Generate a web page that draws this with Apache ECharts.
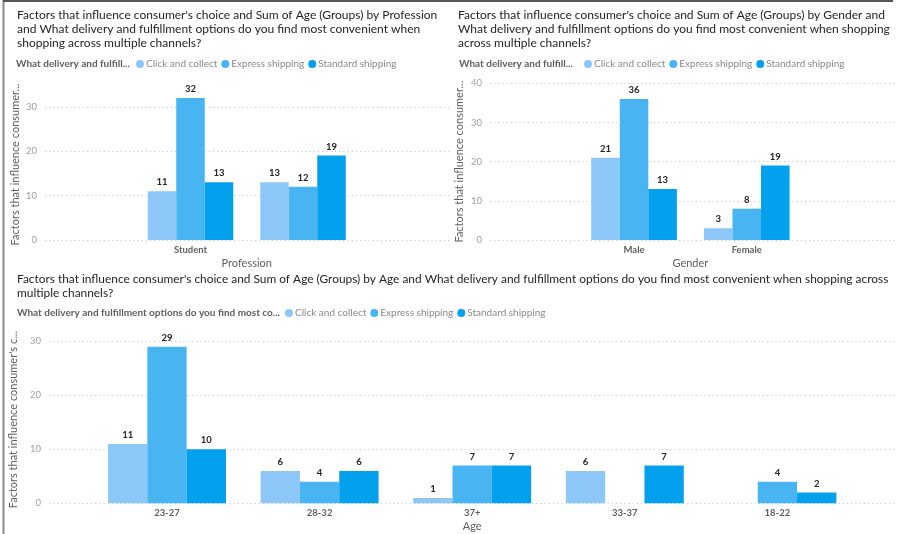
<!DOCTYPE html>
<html>
<head>
<meta charset="utf-8">
<script src="https://cdn.jsdelivr.net/npm/echarts@6/dist/echarts.min.js"></script>
<style>
  html, body { margin: 0; padding: 0; background: #fff; }
  #chart { width: 901px; height: 534px; }
</style>
</head>
<body>
<div id="chart"></div>
<script>
// Series names
const seriesNames = ['Click and collect', 'Express shipping', 'Standard shipping'];
const seriesColors = ['#8CC7F7', '#48B4F2', '#03A0EE'];

// Panel 1: by Profession
const professions = ['Student', 'Working professional'];
const profClick = [11, 13];
const profExpress = [32, 12];
const profStandard = [13, 19];

// Panel 2: by Gender
const genders = ['Male', 'Female'];
const genClick = [21, 3];
const genExpress = [36, 8];
const genStandard = [13, 19];

// Panel 3: by Age
const ages = ['23-27', '28-32', '37+', '33-37', '18-22'];
const ageClick = [11, 6, 1, 6, null];
const ageExpress = [29, 4, 7, null, 4];
const ageStandard = [10, 6, 7, 7, 2];

// Y ticks
const yTicks1 = [0, 10, 20, 30];
const yTicks2 = [0, 10, 20, 30, 40];
const yTicks3 = [0, 10, 20, 30];

const FONT = 'Lato, "Noto Sans", sans-serif';
const titleColor = '#252423';

const chart = echarts.init(document.getElementById('chart'), null, { renderer: 'canvas' });

function valueAxisFrame(gridIndex, max, name, nameGap, ticks) {
  return {
    type: 'value', gridIndex: gridIndex, min: 0, max: max, interval: 10,
    name: name, nameLocation: 'middle', nameGap: nameGap, nameRotate: 90,
    nameTextStyle: { color: '#605E5C', fontSize: 11, fontFamily: FONT },
    axisLine: { show: false }, axisTick: { show: false },
    axisLabel: {
      color: '#A19F9D', fontSize: 9.5, fontFamily: FONT, margin: 8,
      showMaxLabel: ticks.indexOf(max) >= 0,
      formatter: v => (ticks.indexOf(v) >= 0 ? String(v) : '')
    },
    splitLine: {
      show: true, showMaxLine: ticks.indexOf(max) >= 0,
      lineStyle: { color: '#C8C8C8', type: [1.2, 3], width: 1 }
    }
  };
}
function valueAxisHidden(gridIndex, max) {
  return { type: 'value', gridIndex: gridIndex, min: 0, max: max, interval: 10, show: false, splitLine: { show: false } };
}
function catAxisFrame(gridIndex) {
  return { type: 'category', gridIndex: gridIndex, data: [''], show: false };
}
function catAxisBars(gridIndex, cats, name) {
  return {
    type: 'category', gridIndex: gridIndex, data: cats,
    name: name, nameLocation: 'middle', nameGap: 18,
    nameTextStyle: { color: '#605E5C', fontSize: 11, fontFamily: FONT },
    axisLine: { show: false }, axisTick: { show: false },
    axisLabel: { color: '#605E5C', fontSize: 9.5, fontWeight: 'bold', fontFamily: FONT, margin: 5 }
  };
}
function barSeries(idx, axisIdx, data, gap) {
  return {
    type: 'bar', name: seriesNames[idx], xAxisIndex: axisIdx, yAxisIndex: axisIdx,
    data: data, barGap: '0%', barCategoryGap: gap,
    itemStyle: { color: seriesColors[idx] },
    label: {
      show: true, position: 'top', distance: 4, color: '#252423',
      fontSize: 9.5, fontWeight: 'bold', fontFamily: FONT
    }
  };
}
function legendAt(left, top) {
  return {
    left: left, top: top, data: seriesNames, icon: 'circle',
    itemWidth: 8, itemHeight: 8, itemGap: 4, padding: 0,
    textStyle: { color: '#8A8886', fontSize: 10, fontFamily: FONT, padding: [0, 0, 0, -3] }
  };
}
function titleAt(text, left, top, size) {
  return {
    text: text, left: left, top: top, padding: 0,
    textStyle: { color: titleColor, fontSize: size, fontWeight: 'normal', fontFamily: FONT, lineHeight: 14 }
  };
}

const option = {
  animation: false,
  textStyle: { fontFamily: FONT },
  title: [
    titleAt("Factors that influence consumer's choice and Sum of Age (Groups) by Profession\nand What delivery and fulfillment options do you find most convenient when\nshopping across multiple channels?", 17, 8, 12),
    titleAt("Factors that influence consumer's choice and Sum of Age (Groups) by Gender and\nWhat delivery and fulfillment options do you find most convenient when shopping\nacross multiple channels?", 458, 8, 12),
    titleAt("Factors that influence consumer's choice and Sum of Age (Groups) by Age and What delivery and fulfillment options do you find most convenient when shopping across\nmultiple channels?", 17, 272, 11.9)
  ],
  legend: [legendAt(136, 59), legendAt(584, 59), legendAt(285, 308)],
  grid: [
    { left: 45, right: 451, top: 89, bottom: 294 },       // 0 frame, profession
    { left: 134.25, width: 225, top: 89, bottom: 294 },   // 1 bars, profession
    { left: 490, right: 6, top: 83.3, bottom: 294 },      // 2 frame, gender
    { left: 577.7, width: 225.4, top: 83.3, bottom: 294 },// 3 bars, gender
    { left: 45, right: 4, top: 336, bottom: 30.7 },       // 4 frame, age
    { left: 90.7, width: 763, top: 336, bottom: 30.7 }    // 5 bars, age
  ],
  xAxis: [
    catAxisFrame(0), catAxisBars(1, professions, 'Profession'),
    catAxisFrame(2), catAxisBars(3, genders, 'Gender'),
    catAxisFrame(4), catAxisBars(5, ages, 'Age')
  ],
  yAxis: [
    valueAxisFrame(0, 34, 'Factors that influence consumer...', 24, yTicks1), valueAxisHidden(1, 34),
    valueAxisFrame(2, 40, 'Factors that influence consumer...', 25, yTicks2), valueAxisHidden(3, 40),
    valueAxisFrame(4, 31, "Factors that influence consumer's c...", 24, yTicks3), valueAxisHidden(5, 31)
  ],
  series: [
    barSeries(0, 1, profClick, '24%'), barSeries(1, 1, profExpress, '24%'), barSeries(2, 1, profStandard, '24%'),
    barSeries(0, 3, genClick, '24%'), barSeries(1, 3, genExpress, '24%'), barSeries(2, 3, genStandard, '24%'),
    barSeries(0, 5, ageClick, '22.7%'), barSeries(1, 5, ageExpress, '22.7%'), barSeries(2, 5, ageStandard, '22.7%')
  ],
  graphic: [
    // bold legend captions
    { type: 'text', left: 16, top: 59, style: { text: 'What delivery and fulfill...', fill: '#605E5C', font: 'bold 10px ' + FONT } },
    { type: 'text', left: 459, top: 59, style: { text: 'What delivery and fulfill...', fill: '#605E5C', font: 'bold 10px ' + FONT } },
    { type: 'text', left: 17, top: 308, style: { text: 'What delivery and fulfillment options do you find most co...', fill: '#605E5C', font: 'bold 10px ' + FONT } },
    // frame lines
    { type: 'line', shape: { x1: 3.5, y1: 0, x2: 3.5, y2: 534 }, style: { stroke: '#8A8886', lineWidth: 2 } },
    { type: 'line', shape: { x1: 3, y1: 1, x2: 893, y2: 1 }, style: { stroke: '#555', lineWidth: 2 } }
  ]
};

chart.setOption(option);
</script>
</body>
</html>
